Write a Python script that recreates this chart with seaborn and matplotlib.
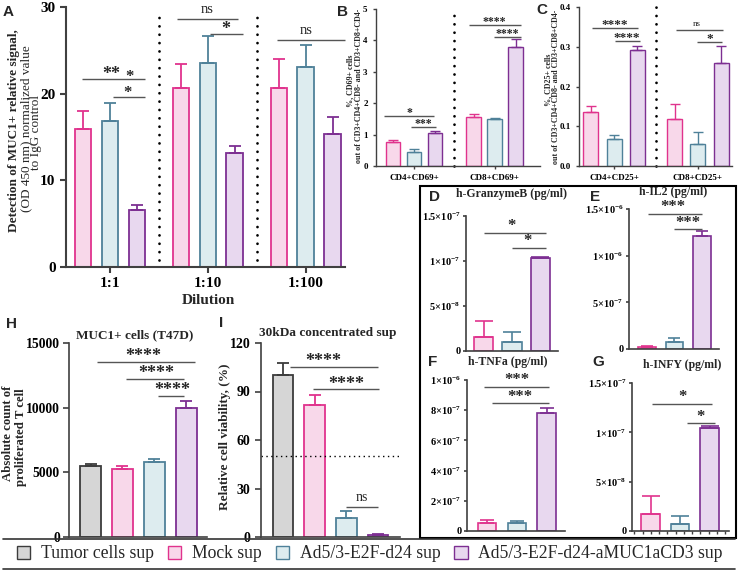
import matplotlib
matplotlib.use("Agg")
import matplotlib.pyplot as plt
import seaborn as sns
import pandas as pd
import numpy as np
from matplotlib.patches import Patch, Rectangle
from matplotlib.lines import Line2D

W, H = 738, 572
sns.set_theme(style="ticks")
plt.rcParams['font.family'] = ['Liberation Serif', 'DejaVu Serif']
plt.rcParams['font.weight'] = 'bold'
plt.rcParams['mathtext.default'] = 'regular'

# treatments, colours
treat = ["Tumor cells sup", "Mock sup", "Ad5/3-E2F-d24 sup", "Ad5/3-E2F-d24-aMUC1aCD3 sup"]
fills = ["#d6d6d6", "#f8d8ea", "#ddecef", "#e8d8ef"]
edges = ["#3c3c3c", "#e0338d", "#4f8199", "#7d2f92"]
three = treat[1:]

# --- A: ELISA MUC1 binding
a_dil = ["1:1", "1:10", "1:100"]
a_mock = [15.9, 20.6, 20.7]
a_mock_sd = [2.1, 2.8, 3.3]
a_ad = [16.8, 23.5, 23.1]
a_ad_sd = [2.1, 3.2, 2.5]
a_muc = [6.6, 13.2, 15.3]
a_muc_sd = [0.5, 0.8, 2.0]

# --- B: CD69
b_cells = ["CD4+CD69+", "CD8+CD69+"]
b_mock = [0.77, 1.55]
b_mock_sd = [0.06, 0.10]
b_ad = [0.45, 1.49]
b_ad_sd = [0.08, 0.05]
b_muc = [1.05, 3.80]
b_muc_sd = [0.05, 0.23]

# --- C: CD25
c_cells = ["CD4+CD25+", "CD8+CD25+"]
c_mock = [0.137, 0.117]
c_mock_sd = [0.014, 0.040]
c_ad = [0.067, 0.056]
c_ad_sd = [0.012, 0.030]
c_muc = [0.292, 0.260]
c_muc_sd = [0.009, 0.043]

# --- D-G: cytokines (pg/ml), order Mock, Ad5/3, aMUC1aCD3
d_gzmb = [1.6e-8, 1.0e-8, 1.03e-7]
d_gzmb_sd = [1.7e-8, 1.1e-8, 0.01e-7]
e_il2 = [0.02e-6, 0.08e-6, 1.21e-6]
e_il2_sd = [0.015e-6, 0.04e-6, 0.05e-6]
f_tnfa = [0.055e-6, 0.05e-6, 0.78e-6]
f_tnfa_sd = [0.015e-6, 0.015e-6, 0.035e-6]
g_ifng = [1.7e-8, 0.7e-8, 1.04e-7]
g_ifng_sd = [1.8e-8, 0.8e-8, 0.02e-7]

# --- H: proliferation, I: viability (all four treatments)
h_count = [5500, 5270, 5800, 9950]
h_count_sd = [120, 250, 200, 600]
i_viab = [100.5, 81.5, 12.0, 1.0]
i_viab_sd = [7.0, 6.5, 4.0, 0.8]

fig = plt.figure(figsize=(W / 100, H / 100), dpi=100)
SPINE = "#404040"


def px_axes(l, t, r, b, lw=1.0):
    ax = fig.add_axes([l / W, 1 - b / H, (r - l) / W, (b - t) / H])
    ax.set_facecolor("none")
    sns.despine(ax=ax)
    for s in ("left", "bottom"):
        ax.spines[s].set_color(SPINE)
        ax.spines[s].set_linewidth(lw)
    ax.tick_params(colors=SPINE, width=lw, labelcolor="black")
    ax.set_xlabel("")
    ax.set_ylabel("")
    return ax


def draw_bars(ax, df, xcol, order, hue_order, sds, width, gap=0.0, lw=1.2, cap=4):
    sns.barplot(data=df, x=xcol, y="val", hue="treat", order=order, hue_order=hue_order,
                palette=[fills[treat.index(h)] for h in hue_order], width=width, gap=gap,
                errorbar=None, saturation=1, legend=False, linewidth=lw, ax=ax)
    conts = list(ax.containers)[:len(hue_order)]
    for cont, h, sd in zip(conts, hue_order, sds):
        e = edges[treat.index(h)]
        for bar, s in zip(cont, sd):
            bar.set_edgecolor(e)
            xc = bar.get_x() + bar.get_width() / 2
            ax.errorbar(xc, bar.get_height(), yerr=[[0], [s]], fmt="none", ecolor=e,
                        elinewidth=lw, capsize=cap, capthick=lw, zorder=1)
    ax.set_xlabel("")
    ax.set_ylabel("")


def grouped_df(cats, series, hues):
    rows = []
    for h, vals in zip(hues, series):
        for c, v in zip(cats, vals):
            rows.append({"cat": c, "treat": h, "val": v})
    return pd.DataFrame(rows)


def single_df(hues, vals):
    return pd.DataFrame({"treat": hues, "val": vals})


def label(ax, lx, ly, text, fs):
    # asterisks sit high in the glyph box, so pull them down a little
    if "*" in text:
        ax.annotate(text, (lx, ly), xytext=(0, -0.24 * fs), textcoords="offset points",
                    ha="center", va="center", fontsize=fs, annotation_clip=False)
    else:
        ax.text(lx, ly, text, ha="center", va="center", fontsize=fs, weight="normal",
                clip_on=False)


def sig(ax, x0, x1, y, text, lx, ly, fs, lw=1.0):
    ax.plot([x0, x1], [y, y], color="#555555", lw=lw, clip_on=False, solid_capstyle="butt")
    label(ax, lx, ly, text, fs)


def dotted_v(ax, x, y0, y1):
    ax.plot([x, x], [y0, y1], color="black", lw=2.0, ls=(0, (0.01, 3.0)),
            dash_capstyle="round", clip_on=False)


def vtext(x, y, s, fs, **kw):
    fig.text(x / W, 1 - y / H, s, rotation=90, ha="center", va="center", fontsize=fs, **kw)


# ---------------- A ----------------
axA = px_axes(66, 7, 345, 267, lw=1.5)
draw_bars(axA, grouped_df(a_dil, [a_mock, a_ad, a_muc], three), "cat", a_dil, three,
          [a_mock_sd, a_ad_sd, a_muc_sd], width=0.825, gap=0.38, lw=1.3, cap=4.6)
axA.set_xlim(-0.449, 2.4)
axA.set_ylim(0, 30)
axA.set_yticks([0, 10, 20, 30])
axA.tick_params(labelsize=11, length=4)
dotted_v(axA, 0.5, 0.8, 29.6)
dotted_v(axA, 1.5, 0.8, 29.6)
sig(axA, -0.286, 0.357, 21.7, "**", 0.01, 22.7, 13)
label(axA, 0.195, 22.4, "*", 12)
sig(axA, 0.03, 0.357, 19.6, "*", 0.18, 20.5, 12)
sig(axA, 0.684, 1.306, 28.6, "ns", 0.99, 29.7, 10.5)
sig(axA, 1.02, 1.357, 26.9, "*", 1.18, 27.9, 13)
sig(axA, 1.704, 2.4, 26.2, "ns", 2.0, 27.3, 10.5)
fig.text(208 / W, 1 - 301 / H, "Dilution", ha="center", va="center", fontsize=11)
vtext(14, 131, "Detection of MUC1+ relative signal,", 9.5)
vtext(26, 129, "(OD 450 nm) normalized value", 9.5, weight="normal")
vtext(36.5, 133, "to IgG control", 9.5, weight="normal")

# ---------------- B ----------------
axB = px_axes(376, 9, 540, 166)
draw_bars(axB, grouped_df(b_cells, [b_mock, b_ad, b_muc], three), "cat", b_cells, three,
          [b_mock_sd, b_ad_sd, b_muc_sd], width=0.78, gap=0.29, lw=1.0, cap=3.3)
axB.set_xlim(-0.47, 1.56)
axB.set_ylim(0, 5)
axB.tick_params(labelsize=6.5, length=2.5)
dotted_v(axB, 0.5, 0.0, 5.0)
sig(axB, -0.37, 0.247, 1.59, "*", -0.06, 1.78, 8.5)
sig(axB, -0.037, 0.27, 1.24, "***", 0.12, 1.43, 8.5)
sig(axB, 0.68, 1.32, 4.49, "****", 1.0, 4.68, 8.5)
sig(axB, 0.99, 1.33, 4.10, "****", 1.16, 4.30, 8.5)
vtext(350, 81, "%, CD69+ cells", 5.8)
vtext(359, 86, "out of CD3+CD4+CD8- and CD3+CD8+CD4-", 5.8)

# ---------------- C ----------------
axC = px_axes(579, 7, 732, 166)
draw_bars(axC, grouped_df(c_cells, [c_mock, c_ad, c_muc], three), "cat", c_cells, three,
          [c_mock_sd, c_ad_sd, c_muc_sd], width=0.825, gap=0.35, lw=1.0, cap=3.3)
axC.set_xlim(-0.417, 1.405)
axC.set_ylim(0, 0.4)
axC.set_yticks([0, 0.1, 0.2, 0.3, 0.4])
axC.set_yticklabels(["0.0", "0.1", "0.2", "0.3", "0.4"])
axC.tick_params(labelsize=6.5, length=2.5)
dotted_v(axC, 0.5, 0.0, 0.4)
sig(axC, -0.26, 0.286, 0.347, "****", 0.01, 0.362, 9.5)
sig(axC, 0.01, 0.31, 0.314, "****", 0.155, 0.330, 9.5)
sig(axC, 0.738, 1.30, 0.342, "ns", 0.99, 0.357, 6.5)
sig(axC, 0.99, 1.29, 0.312, "*", 1.14, 0.327, 9.5)
vtext(548, 80, "%, CD25+ cells", 5.8)
vtext(556, 87, "out of CD3+CD4+CD8- and CD3+CD8+CD4-", 5.8)

# ---------------- D-G box ----------------
fig.add_artist(Rectangle((420 / W, 1 - 538 / H), 316 / W, 352 / H, transform=fig.transFigure,
                         fill=False, lw=1.5, ec="black"))


def cyto(l, t, r, b, vals, sds, xlim, width, ticks, labels, top, cap):
    ax = px_axes(l, t, r, b, lw=1.2)
    draw_bars(ax, single_df(three, vals), "treat", three, three, [[s] for s in sds],
              width=width, lw=1.2, cap=cap)
    ax.set_xlim(*xlim)
    ax.set_ylim(0, top)
    ax.set_xticks([])
    ax.set_yticks(ticks)
    ax.set_yticklabels(labels)
    ax.tick_params(axis="y", labelsize=7.5, length=2.5, pad=1.5)
    return ax


axD = cyto(466, 216, 558, 351, d_gzmb, d_gzmb_sd, (-0.64, 2.64), 0.68,
           [0, 5e-8, 1e-7, 1.5e-7], ["0", r"5×10$^{-8}$", r"1×10$^{-7}$", r"1.5×10$^{-7}$"], 1.5e-7, 6.5)
sig(axD, 0.0, 2.21, 1.31e-7, "*", 1.0, 1.433e-7, 12)
sig(axD, 1.0, 2.21, 1.14e-7, "*", 1.54, 1.267e-7, 12)

axE = cyto(629, 209, 719, 349, e_il2, e_il2_sd, (-0.655, 2.62), 0.65,
           [0, 5e-7, 1e-6, 1.5e-6], ["0", r"5×10$^{-7}$", r"1×10$^{-6}$", r"1.5×10$^{-6}$"], 1.5e-6, 4.5)
sig(axE, 0.04, 2.0, 1.446e-6, "***", 0.95, 1.564e-6, 12)
sig(axE, 0.98, 2.0, 1.29e-6, "***", 1.49, 1.39e-6, 12)

axF = cyto(467, 380, 565, 531, f_tnfa, f_tnfa_sd, (-0.67, 2.62), 0.62,
           [0, 2e-7, 4e-7, 6e-7, 8e-7, 1e-6],
           ["0", r"2×10$^{-7}$", r"4×10$^{-7}$", r"6×10$^{-7}$", r"8×10$^{-7}$", r"1×10$^{-6}$"], 1e-6, 5)
sig(axF, -0.1, 2.07, 0.954e-6, "***", 1.0, 1.026e-6, 12)
sig(axF, 0.17, 2.07, 0.848e-6, "***", 1.1, 0.914e-6, 12)

axG = cyto(632, 383, 729, 531, g_ifng, g_ifng_sd, (-0.63, 2.66), 0.64,
           [0, 5e-8, 1e-7, 1.5e-7], ["0", r"5×10$^{-8}$", r"1×10$^{-7}$", r"1.5×10$^{-7}$"], 1.5e-7, 6.5)
axG.set_xticks(np.arange(-0.55, 2.66, 0.28), minor=True)
axG.tick_params(axis="x", which="minor", length=2, color=SPINE)
sig(axG, 0.05, 2.08, 1.287e-7, "*", 1.07, 1.40e-7, 12)
sig(axG, 1.24, 2.19, 1.095e-7, "*", 1.68, 1.196e-7, 12)

for txt, x, y in [("h-GranzymeB (pg/ml)", 512, 194), ("h-IL2 (pg/ml)", 673, 192),
                  ("h-TNFa (pg/ml)", 508, 362), ("h-INFY (pg/ml)", 682, 365)]:
    fig.text(x / W, 1 - y / H, txt, ha="center", va="center", fontsize=8.5)

# ---------------- H ----------------
axH = px_axes(69, 343, 207, 537, lw=1.2)
draw_bars(axH, single_df(treat, h_count), "treat", treat, treat, [[s] for s in h_count_sd],
          width=0.66, lw=1.3, cap=4.5)
axH.set_xlim(-0.68, 3.66)
axH.set_ylim(0, 15000)
axH.set_yticks([0, 5000, 10000, 15000])
axH.set_xticks([])
axH.tick_params(labelsize=9.8, length=4, pad=2.5)
sig(axH, 0.2, 3.29, 13530, "****", 1.65, 14300, 13)
sig(axH, 1.12, 2.94, 12216, "****", 2.06, 12990, 13)
sig(axH, 2.12, 2.94, 10900, "****", 2.57, 11675, 13)
fig.text(135 / W, 1 - 335 / H, "MUC1+ cells (T47D)", ha="center", va="center", fontsize=9.5)
vtext(8, 433, "Absolute count of", 9.2)
vtext(21, 437, "proliferated T cell", 9.2)

# ---------------- I ----------------
axI = px_axes(261, 343, 400, 537, lw=1.2)
draw_bars(axI, single_df(treat, i_viab), "treat", treat, treat, [[s] for s in i_viab_sd],
          width=0.65, lw=1.3, cap=4.5)
axI.set_xlim(-0.69, 3.69)
axI.set_ylim(0, 120)
axI.set_yticks([0, 30, 60, 90, 120])
axI.set_xticks([])
axI.tick_params(labelsize=10, length=4)
axI.axhline(50, color="black", lw=1.0, ls=(0, (1, 2.5)), clip_on=False)
sig(axI, 0.22, 3.0, 105, "****", 1.26, 111.3, 13)
sig(axI, 0.95, 3.03, 91.5, "****", 2.0, 97.1, 13)
sig(axI, 1.99, 3.0, 18.5, "ns", 2.49, 24.7, 10)
fig.text(328 / W, 1 - 333 / H, "30kDa concentrated sup", ha="center", va="center", fontsize=9.5)
vtext(225, 437, "Relative cell viability, (%)", 9.5)

# ---------------- panel letters ----------------
for letter, x, y in [("A", 3, 12), ("B", 337, 12), ("C", 536, 10), ("D", 429, 197),
                     ("E", 590, 197), ("F", 428, 362), ("G", 592, 362), ("H", 6, 324),
                     ("I", 219, 323)]:
    fig.text(x / W, 1 - y / H, letter, ha="left", va="center", fontsize=11,
             family="Liberation Sans", weight="bold")

# ---------------- legend ----------------
handles = [Patch(facecolor=f, edgecolor=e, lw=1.0) for f, e in zip(fills, edges)]
fig.legend(handles, treat, loc="center", bbox_to_anchor=(370 / W, 1 - 554 / H), ncol=4,
           frameon=False, prop={"family": "Liberation Serif", "weight": "normal", "size": 12.7},
           handlelength=0.75, handleheight=0.75, handletextpad=0.6, columnspacing=0.8,
           borderpad=0, borderaxespad=0)
for y in (539, 569):
    fig.add_artist(Line2D([3 / W, 735 / W], [1 - y / H, 1 - y / H], color="#333333", lw=1.2,
                          transform=fig.transFigure))

fig.savefig("out.png", dpi=100)
